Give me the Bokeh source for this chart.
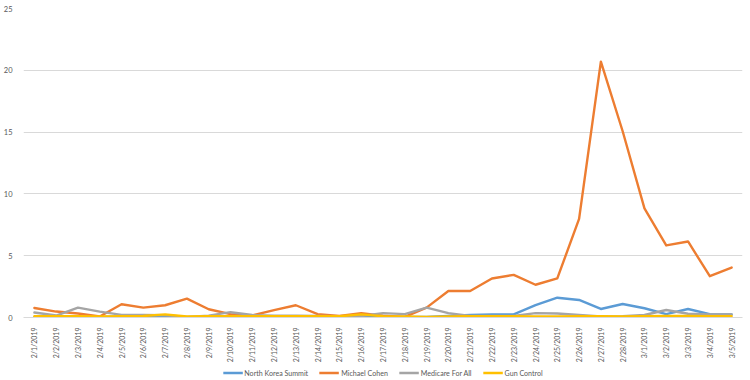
from bokeh.plotting import figure
from bokeh.models import Range1d, FactorRange, Legend, LegendItem, SingleIntervalTicker
from bokeh.layouts import column
from bokeh.embed import file_html
from bokeh.resources import INLINE

dates = ["2/%d/2019" % d for d in range(1, 29)] + ["3/%d/2019" % d for d in range(1, 6)]

north_korea = [0.05, 0.05, 0.05, 0.05, 0.05, 0.05, 0.02, 0.02, 0.05, 0.05, 0.05,
               0.05, 0.05, 0.05, 0.05, 0.05, 0.05, 0.05, 0.05, 0.12, 0.2, 0.25,
               0.25, 1.0, 1.6, 1.42, 0.69, 1.09, 0.75, 0.27, 0.69, 0.27, 0.25]
michael_cohen = [0.77, 0.48, 0.32, 0.08, 1.07, 0.8, 0.99, 1.53, 0.67, 0.27, 0.16,
                 0.6, 0.99, 0.27, 0.12, 0.35, 0.15, 0.05, 0.8, 2.14, 2.14, 3.16,
                 3.45, 2.65, 3.16, 7.98, 20.7, 15.07, 8.83, 5.83, 6.15, 3.34, 4.04]
medicare = [0.4, 0.16, 0.8, 0.48, 0.21, 0.2, 0.18, 0.05, 0.15, 0.43, 0.2,
            0.15, 0.15, 0.12, 0.1, 0.12, 0.35, 0.27, 0.8, 0.35, 0.12, 0.12,
            0.12, 0.35, 0.32, 0.2, 0.08, 0.1, 0.2, 0.61, 0.3, 0.25, 0.25]
gun_control = [0.1, 0.1, 0.1, 0.08, 0.1, 0.12, 0.25, 0.08, 0.1, 0.1, 0.1,
               0.1, 0.1, 0.1, 0.1, 0.25, 0.1, 0.08, 0.05, 0.08, 0.1, 0.1,
               0.1, 0.08, 0.08, 0.1, 0.1, 0.08, 0.1, 0.12, 0.12, 0.1, 0.1]

series = [("North Korea Summit", north_korea, "#5B9BD5"),
          ("Michael Cohen", michael_cohen, "#ED7D31"),
          ("Medicare For All", medicare, "#A5A5A5"),
          ("Gun Control", gun_control, "#FFC000")]

FONT = "Lato"
TXT = "#595959"
LW = 2.4

p = figure(width=750, height=365, x_range=FactorRange(*dates), y_range=Range1d(0, 25),
           output_backend="svg", toolbar_location=None,
           min_border_left=0, min_border_right=8, min_border_top=8, min_border_bottom=46)
p.outline_line_color = None
p.background_fill_color = "white"

for name, vals, col in series:
    p.line(x=dates, y=vals, line_color=col, line_width=LW, line_join="round", line_cap="round")

p.xgrid.grid_line_color = None
p.ygrid.grid_line_color = "#D9D9D9"
p.ygrid.grid_line_width = 1
p.yaxis.ticker = SingleIntervalTicker(interval=5)
p.yaxis.axis_line_color = None
p.yaxis.major_tick_line_color = None
p.yaxis.minor_tick_line_color = None
p.yaxis.major_label_standoff = 5
p.yaxis.major_label_text_font = FONT
p.yaxis.major_label_text_font_size = "7.5px"
p.yaxis.major_label_text_color = TXT

p.xaxis.axis_line_color = "#D9D9D9"
p.xaxis.major_tick_line_color = None
p.xaxis.major_label_orientation = 1.5708
p.xaxis.major_label_standoff = 4
p.xaxis.major_label_text_font = FONT
p.xaxis.major_label_text_font_size = "7px"
p.xaxis.major_label_text_color = TXT

# legend strip below the chart (swatch lines carry no visible data)
lg = figure(width=750, height=15, x_range=Range1d(0, 1), y_range=Range1d(0, 1),
            output_backend="svg", toolbar_location=None,
            x_axis_type=None, y_axis_type=None,
            min_border_left=0, min_border_right=0, min_border_top=0, min_border_bottom=0)
lg.outline_line_color = None
lg.xgrid.visible = False
lg.ygrid.visible = False
items = []
nan = float("nan")
for name, vals, col in series:
    r = lg.line(x=[nan, nan], y=[nan, nan], line_color=col, line_width=LW)
    items.append(LegendItem(label=name, renderers=[r]))
legend = Legend(items=items, orientation="horizontal", location="center",
                label_text_font=FONT, label_text_font_size="7.1px", label_text_color=TXT,
                glyph_width=20, glyph_height=8, label_standoff=2, spacing=11,
                padding=0, margin=0, border_line_color=None, background_fill_alpha=0,
                label_height=8)
lg.add_layout(legend)

layout = column(p, lg, spacing=0)
open("out.html", "w").write(file_html(layout, INLINE))
